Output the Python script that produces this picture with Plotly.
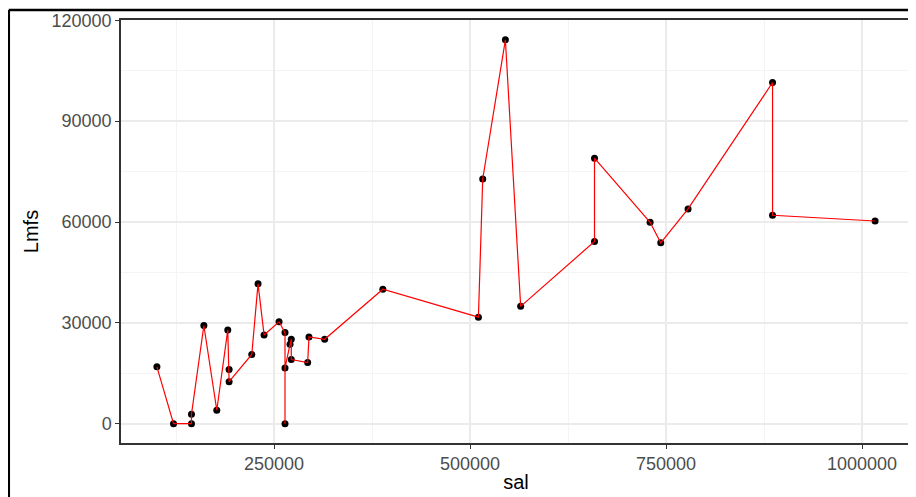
import plotly.graph_objects as go

# Data (ordered as the line connects them)
sal = [100600, 121800, 144700, 144700, 160500, 177000, 191000, 192700, 192700,
       221600, 229600, 237300, 256400, 264000, 264000, 264000, 270400, 272000,
       272000, 292900, 294600, 314600, 388800, 510700, 516200, 545100, 564600,
       658800, 658800, 729700, 743300, 778100, 885900, 885900, 1016700]
lmfs = [16900, 0, 0, 2800, 29200, 4000, 27900, 16100, 12500,
        20600, 41600, 26400, 30300, 27100, 0, 16600, 23600, 25100,
        19100, 18200, 25800, 25100, 40000, 31700, 72800, 114200, 34900,
        54200, 79000, 59900, 53800, 63900, 101500, 62000, 60300]

x_ticks = [250000, 500000, 750000, 1000000]
y_ticks = [0, 30000, 60000, 90000, 120000]

W, H = 908, 489
ML, MR, MT, MB = 113, 3, 12, 54
PW, PH = W - ML - MR, H - MT - MB

fig = go.Figure()
fig.add_trace(go.Scatter(x=sal, y=lmfs, mode="markers",
                         marker=dict(color="black", size=7), showlegend=False,
                         hoverinfo="skip"))
fig.add_trace(go.Scatter(x=sal, y=lmfs, mode="lines",
                         line=dict(color="#FF0000", width=1.2), showlegend=False))

axis_common = dict(
    showline=True, linecolor="#333333", linewidth=1.5, mirror=True,
    showgrid=True, gridcolor="#EBEBEB", gridwidth=1.5,
    ticks="outside", ticklen=4, tickcolor="#333333", tickwidth=1,
    tickfont=dict(family="Liberation Sans, Arial, sans-serif", size=18, color="#4D4D4D"),
    zeroline=False,
)

fig.update_layout(
    width=W, height=H,
    margin=dict(l=ML, r=MR, t=MT, b=MB),
    paper_bgcolor="white", plot_bgcolor="white",
    xaxis=dict(range=[54800, 1062500], tickvals=x_ticks,
               ticktext=[str(v) for v in x_ticks],
               minor=dict(tickvals=[125000, 375000, 625000, 875000], showgrid=True,
                          gridcolor="#F4F4F4", gridwidth=1, ticks=""),
               title=dict(text="sal", standoff=2,
                          font=dict(family="Liberation Sans, Arial, sans-serif", size=20, color="black")),
               **axis_common),
    yaxis=dict(range=[-5750, 120100], tickvals=y_ticks,
               ticktext=[str(v) for v in y_ticks],
               minor=dict(tickvals=[15000, 45000, 75000, 105000], showgrid=True,
                          gridcolor="#F4F4F4", gridwidth=1, ticks=""),
               title=dict(text="Lmfs", standoff=8,
                          font=dict(family="Liberation Sans, Arial, sans-serif", size=20, color="black")),
               **axis_common),
    shapes=[
        dict(type="line", xref="paper", yref="paper",
             x0=(0.5 - ML) / PW, x1=(W - ML) / PW,
             y0=1 + (MT - 2) / PH, y1=1 + (MT - 2) / PH,
             line=dict(color="black", width=2.5)),
        dict(type="line", xref="paper", yref="paper",
             x0=(0.5 - ML) / PW, x1=(0.5 - ML) / PW,
             y0=1 + (MT - 2) / PH, y1=-MB / PH,
             line=dict(color="black", width=2.5)),
    ],
)

fig.write_html("out.html")
